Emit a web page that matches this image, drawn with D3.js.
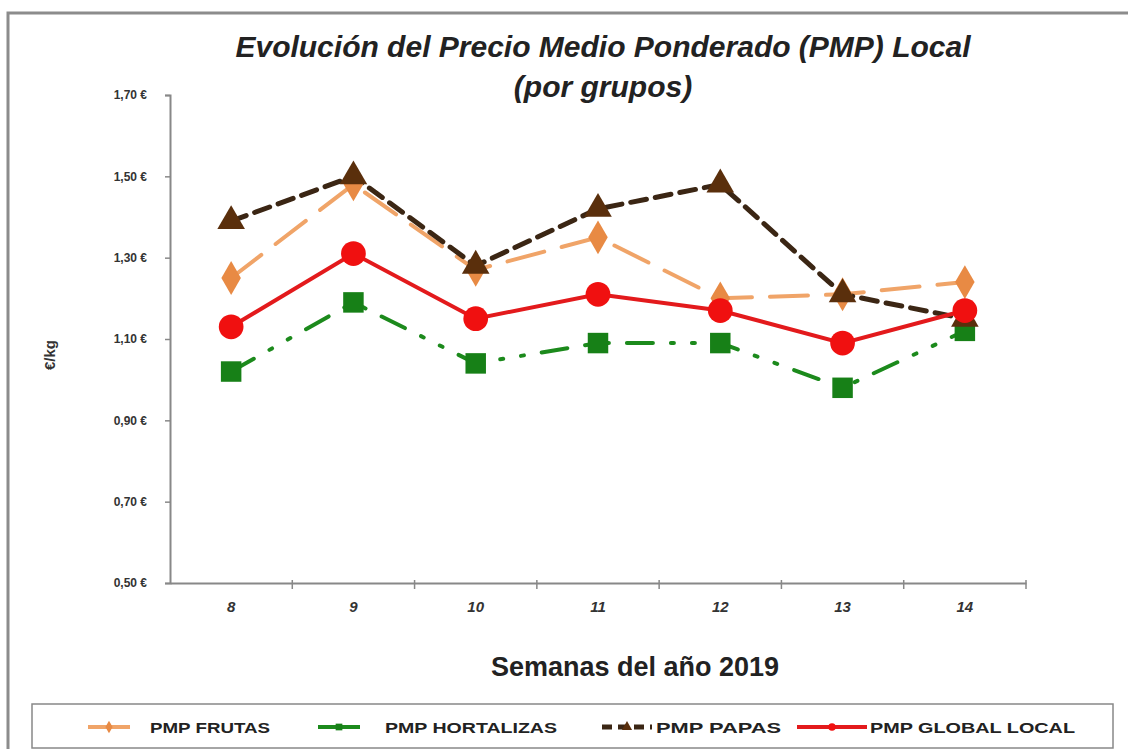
<!DOCTYPE html>
<html>
<head>
<meta charset="utf-8">
<script src="https://cdn.jsdelivr.net/npm/d3@7"></script>
<style>
body { margin: 0; background: #fff; }
svg { font-family: "Liberation Sans", Arial, sans-serif; }
</style>
</head>
<body>
<div id="chart"></div>
<script>
// semanas y precios (€/kg)
var semanas = ["8", "9", "10", "11", "12", "13", "14"];
var frutas = [1.25, 1.48, 1.27, 1.35, 1.20, 1.21, 1.24];
var hortalizas = [1.02, 1.19, 1.04, 1.09, 1.09, 0.98, 1.12];
var papas = [1.39, 1.50, 1.28, 1.42, 1.48, 1.21, 1.15];
var globalLocal = [1.13, 1.31, 1.15, 1.21, 1.17, 1.09, 1.17];
var yTicks = [0.5, 0.7, 0.9, 1.1, 1.3, 1.5, 1.7];

var width = 1128, height = 749;
var mLeft = 170, mRight = 1026, mTop = 95, mBottom = 583;

var svg = d3.select("#chart").append("svg")
    .attr("width", width).attr("height", height);

// marco
svg.append("path")
    .attr("d", "M8,749 L8,13 L1128,13")
    .attr("fill", "none").attr("stroke", "#8c8c8c").attr("stroke-width", 3);

var xBands = d3.scaleBand().domain(semanas).range([mLeft, mRight]);
var yScale = d3.scaleLinear().domain([0.5, 1.7]).range([mBottom, mTop]);
var xc = function (d) { return xBands(d) + xBands.bandwidth() / 2; };

var series = [
    {name: "PMP FRUTAS", values: frutas, color: "#f0a468", mcolor: "#e88a44", dash: "38,18", w: 4, shape: d3.symbolDiamond, size: 330},
    {name: "PMP HORTALIZAS", values: hortalizas, color: "#1c8a1c", mcolor: "#178017", dash: "26,18,3,18,3,18", w: 4, shape: d3.symbolSquare, size: 420},
    {name: "PMP PAPAS", values: papas, color: "#3b2614", mcolor: "#5a2f0c", dash: "16,9", w: 5, shape: d3.symbolTriangle, size: 330},
    {name: "PMP GLOBAL LOCAL", values: globalLocal, color: "#e31a1c", mcolor: "#f01010", dash: null, w: 4, shape: d3.symbolCircle, size: 480}
];

// ejes
var yAxis = d3.axisLeft(yScale).tickValues(yTicks)
    .tickFormat(function (d) { return d3.format(".2f")(d).replace(".", ",") + " €"; })
    .tickSize(5).tickPadding(18);
var gy = svg.append("g").attr("transform", "translate(" + mLeft + ",0)").call(yAxis);
gy.select(".domain").attr("stroke", "#888").attr("stroke-width", 2);
gy.selectAll(".tick line").attr("stroke", "#888").attr("stroke-width", 1.5);
gy.selectAll("text").attr("font-size", 12).attr("font-weight", "bold").attr("fill", "#333");

var xAxis = d3.axisBottom(xBands).tickSize(0).tickPadding(18);
var gx = svg.append("g").attr("transform", "translate(0," + mBottom + ")").call(xAxis);
gx.select(".domain").attr("stroke", "#888").attr("stroke-width", 2);
gx.selectAll("text").attr("font-size", 15).attr("font-weight", "bold")
    .attr("font-style", "italic").attr("fill", "#333");
// separadores de categorias
gx.selectAll(".sep").data(semanas).enter().append("line")
    .attr("x1", function (d) { return xBands(d) + xBands.bandwidth(); })
    .attr("x2", function (d) { return xBands(d) + xBands.bandwidth(); })
    .attr("y1", -3).attr("y2", 6)
    .attr("stroke", "#888").attr("stroke-width", 1.5);

// lineas
var line = d3.line()
    .x(function (d, i) { return xc(semanas[i]); })
    .y(function (d) { return yScale(d); });

series.forEach(function (s) {
    svg.append("path").datum(s.values)
        .attr("d", line)
        .attr("fill", "none")
        .attr("stroke", s.color)
        .attr("stroke-width", s.w)
        .attr("stroke-dasharray", s.dash)
        .attr("stroke-linecap", s.dash ? "round" : "butt");
});
series.forEach(function (s) {
    svg.append("g").selectAll("path").data(s.values).enter().append("path")
        .attr("transform", function (d, i) {
            return "translate(" + xc(semanas[i]) + "," + yScale(d) + ")";
        })
        .attr("d", d3.symbol().type(s.shape).size(s.size))
        .attr("fill", s.mcolor);
});

// titulos
svg.append("text").attr("x", 603).attr("y", 57)
    .attr("text-anchor", "middle").attr("font-size", 30)
    .attr("font-weight", "bold").attr("font-style", "italic").attr("fill", "#222")
    .text("Evolución del Precio Medio Ponderado (PMP) Local");
svg.append("text").attr("x", 603).attr("y", 97)
    .attr("text-anchor", "middle").attr("font-size", 30)
    .attr("font-weight", "bold").attr("font-style", "italic").attr("fill", "#222")
    .text("(por grupos)");

svg.append("text").attr("x", 635).attr("y", 676)
    .attr("text-anchor", "middle").attr("font-size", 27)
    .attr("font-weight", "bold").attr("fill", "#222")
    .text("Semanas del año 2019");

svg.append("text")
    .attr("transform", "translate(55,355) rotate(-90)")
    .attr("text-anchor", "middle").attr("font-size", 15)
    .attr("font-weight", "bold").attr("fill", "#333")
    .text("€/kg");

// leyenda
svg.append("rect").attr("x", 32).attr("y", 704).attr("width", 1081).attr("height", 44)
    .attr("fill", "#fff").attr("stroke", "#888").attr("stroke-width", 1.5);

var legX = [88, 318, 602, 797];
var legW = [42, 42, 50, 70];
var legText = [150, 385, 656, 870];
var legLen = [120, 172, 125, 205];
series.forEach(function (s, i) {
    var g = svg.append("g").attr("transform", "translate(0,727)");
    g.append("line").attr("x1", legX[i]).attr("x2", legX[i] + legW[i])
        .attr("stroke", s.color).attr("stroke-width", s.w)
        .attr("stroke-dasharray", s.name === "PMP PAPAS" ? "10,6" : null);
    g.append("path").attr("transform", "translate(" + (legX[i] + legW[i] / 2) + ",0)")
        .attr("d", d3.symbol().type(s.shape).size(45)).attr("fill", s.mcolor);
    g.append("text").attr("x", legText[i]).attr("y", 6)
        .attr("font-size", 15).attr("font-weight", "bold").attr("fill", "#222")
        .attr("textLength", legLen[i]).attr("lengthAdjust", "spacingAndGlyphs")
        .text(s.name);
});
</script>
</body>
</html>
